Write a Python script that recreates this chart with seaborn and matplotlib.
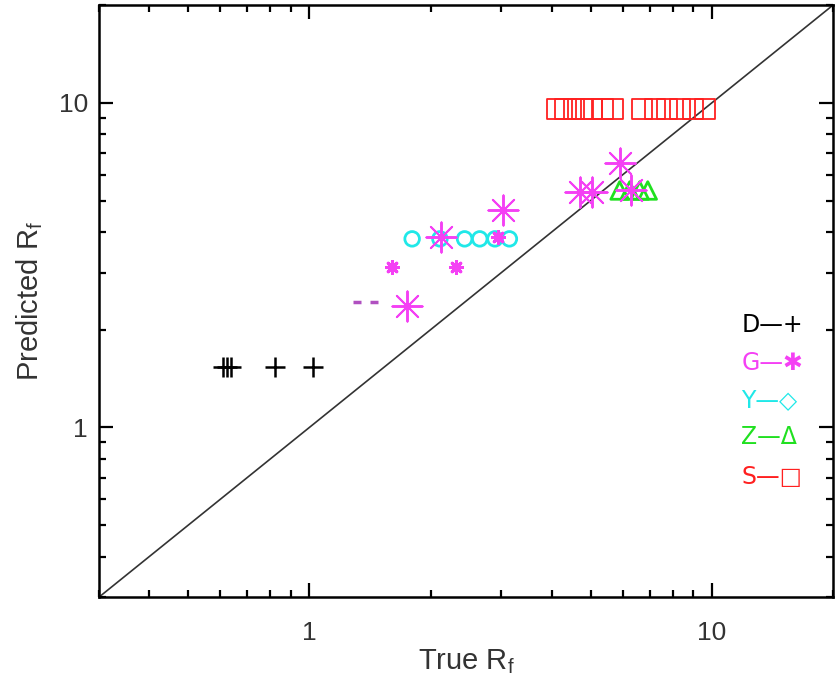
import matplotlib
matplotlib.use("Agg")
import matplotlib.pyplot as plt
import seaborn as sns
import pandas as pd

# ---- data ----
d_x = [0.61, 0.625, 0.64, 0.82, 1.02]
d_y = [1.54, 1.54, 1.54, 1.54, 1.54]

g_big_x = [1.75, 2.12, 3.02, 4.70, 5.03, 5.90, 6.30]
g_big_y = [2.36, 3.86, 4.69, 5.33, 5.33, 6.51, 5.40]
g_small_x = [1.60, 2.32, 2.94]
g_small_y = [3.12, 3.12, 3.86]
g_tiny_x = [1.31, 1.45]
g_tiny_y = [2.44, 2.44]

y_x = [1.80, 2.11, 2.43, 2.65, 2.89, 3.14]
y_y = [3.81, 3.81, 3.81, 3.81, 3.81, 3.81]

z_x = [5.90, 6.25, 6.62, 6.93]
z_y = [5.37, 5.37, 5.37, 5.37]

s_x = [4.14, 4.33, 4.54, 4.77, 5.03, 5.35, 5.67, 6.70, 7.22, 7.73, 8.33, 8.97, 9.61]
s_y = [9.58] * 13

legend_labels = ["D\u2014+", "G\u2014\u2731", "Y\u2014\u25c7", "Z\u2014\u0394", "S\u2014\u25a1"]
x_label = "True R$_{f}$"
y_label = "Predicted R$_{f}$"

# ---- style ----
sns.set_style("white")
plt.rcParams['font.family'] = ['Liberation Sans', 'DejaVu Sans']
plt.rcParams['mathtext.default'] = 'regular'

MAG = "#f440f4"
CYAN = "#20e8e8"
GREEN = "#20e020"
RED = "#ff2020"

fig = plt.figure(figsize=(8.36, 6.84), dpi=100)
ax = fig.add_axes([0.1184, 0.127, 0.8780, 0.8655])
ax.set_xscale("log")
ax.set_yscale("log")

ax.axline((1, 1), (10, 10), color="#333333", lw=1.2, zorder=1)

def sc_open(x, y, marker, color, s, lw):
    df = pd.DataFrame({"x": x, "y": y})
    sns.scatterplot(data=df, x="x", y="y", ax=ax, marker=marker, s=s,
                    facecolors="none", edgecolors=color,
                    linewidth=lw, zorder=3, legend=False)

def sc_line(x, y, marker, color, s, lw):
    df = pd.DataFrame({"x": x, "y": y})
    sns.scatterplot(data=df, x="x", y="y", ax=ax, marker=marker, s=s,
                    color=color, linewidth=lw, zorder=4, legend=False)

sc_line(d_x, d_y, "+", "black", 210, 1.8)
sc_open(s_x, s_y, "s", RED, 220, 1.3)
sc_open(y_x, y_y, "o", CYAN, 110, 2.0)
sc_open(z_x, z_y, "^", GREEN, 160, 2.0)
sc_line(g_big_x, g_big_y, (8, 2, 0), MAG, 470, 1.4)
sc_line(g_small_x, g_small_y, (8, 2, 0), MAG, 75, 2.2)
sc_line(g_tiny_x, g_tiny_y, "_", "#b050c0", 30, 2.5)

ax.set_xlim(0.3, 20)
ax.set_ylim(0.3, 20)

for sp in ax.spines.values():
    sp.set_linewidth(1.8)
    sp.set_color("black")

ax.tick_params(which="both", direction="in", top=True, right=True,
               bottom=True, left=True, colors="black", width=1.6)
ax.tick_params(which="major", length=10, labelsize=19)
ax.tick_params(axis="x", which="major", pad=17)
ax.tick_params(axis="y", which="major", pad=8)
ax.tick_params(which="minor", length=5)
ax.set_xticks([1, 10])
ax.set_xticklabels(["1", "10"])
ax.set_yticks([1, 10])
ax.set_yticklabels(["1", "10"])
for t in ax.get_xticklabels() + ax.get_yticklabels():
    t.set_color("#333333")

ax.set_xlabel(x_label, fontsize=21, color="#333333", labelpad=2)
ax.set_ylabel(y_label, fontsize=21, color="#333333", labelpad=10)

leg_colors = ["black", MAG, CYAN, GREEN, RED]
leg_y = [0.459, 0.395, 0.333, 0.270, 0.203]
for lab, c, yy in zip(legend_labels, leg_colors, leg_y):
    ax.text(0.875, yy, lab, transform=ax.transAxes, color=c, fontsize=17,
            va="center", ha="left", family=['DejaVu Sans'])

fig.savefig("out.png", dpi=100, facecolor="white")
